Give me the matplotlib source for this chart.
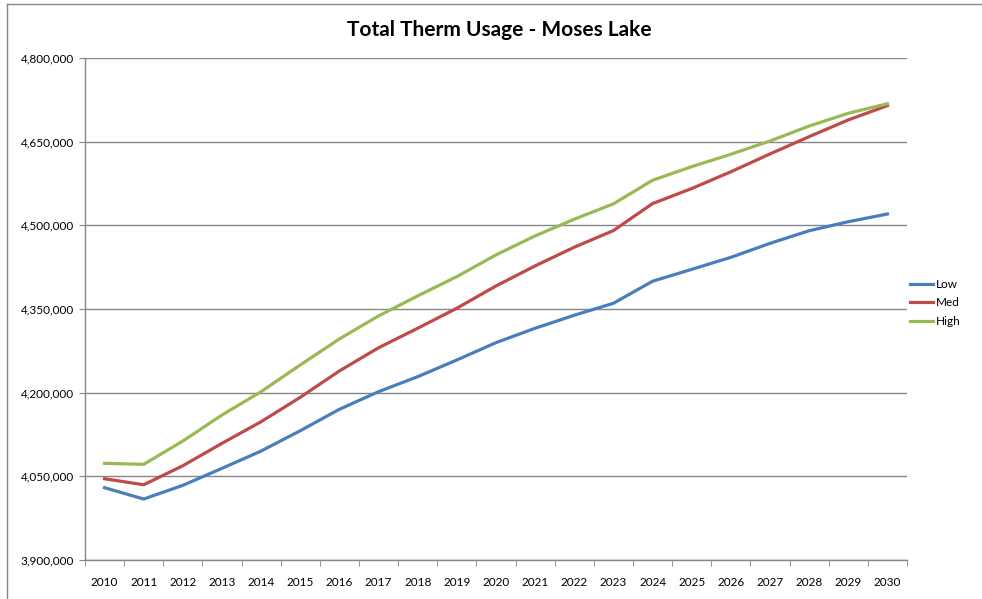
import matplotlib.pyplot as plt
import numpy as np
from matplotlib.ticker import FuncFormatter, FixedLocator
from matplotlib.lines import Line2D

plt.rcParams['font.family'] = ['Lato', 'DejaVu Sans']

years = [str(y) for y in range(2010, 2031)]

low = [4029600, 4009300, 4033900, 4064300, 4095400, 4131800, 4170200, 4201800,
       4228700, 4258600, 4289700, 4315500, 4338800, 4360300, 4399800, 4421100,
       4442600, 4467700, 4490300, 4506500, 4520300]
med = [4045700, 4034900, 4069000, 4109200, 4148000, 4191700, 4239000, 4280500,
       4315500, 4351400, 4391300, 4427300, 4460800, 4490600, 4539000, 4566000,
       4596000, 4628000, 4659000, 4689000, 4714600]
high = [4073300, 4071500, 4113300, 4160000, 4201800, 4249700, 4296400, 4337600,
        4373500, 4408100, 4447000, 4481100, 4511000, 4538500, 4580800, 4605200,
        4627400, 4651200, 4678000, 4700900, 4718000]

series = {'Low': (low, '#4A7EBB'), 'Med': (med, '#BE4B48'), 'High': (high, '#98B954')}

fig = plt.figure(figsize=(9.82, 5.99), dpi=100)
ax = fig.add_axes([85/982, 1 - 560/599, (907-85)/982, (560-58)/599])

x = np.arange(len(years))
for name, (vals, col) in series.items():
    ax.plot(x, vals, color=col, lw=2.3, label=name, solid_joinstyle='round')

grid_col = '#868686'
ax.set_ylim(3900000, 4800000)
ax.set_yticks(np.arange(3900000, 4800001, 150000))
ax.yaxis.set_major_formatter(FuncFormatter(lambda v, p: f'{int(v):,}'))
ax.grid(axis='y', color=grid_col, lw=1)
ax.set_axisbelow(True)

ax.set_xlim(-0.5, len(years) - 0.5)
ax.set_xticks(x)
ax.set_xticklabels(years)
ax.xaxis.set_minor_locator(FixedLocator(np.arange(-0.5, len(years), 1)))
ax.tick_params(axis='x', which='major', length=0, pad=12, labelsize=8.5)
ax.tick_params(axis='x', which='minor', length=4, color=grid_col, direction='out')
ax.tick_params(axis='y', length=4, color=grid_col, labelsize=8.5, pad=4)

for s in ['top', 'right']:
    ax.spines[s].set_visible(False)
for s in ['left', 'bottom']:
    ax.spines[s].set_color(grid_col)
    ax.spines[s].set_linewidth(1)

fig.text(499/982, 1 - 30/599, 'Total Therm Usage - Moses Lake', ha='center', va='center',
         fontsize=15, fontweight='bold')

handles = [Line2D([], [], color=c, lw=2.3) for _, (v, c) in series.items()]
fig.legend(handles, list(series.keys()), loc='center left', bbox_to_anchor=(905/982, 1 - 303/599),
           frameon=False, fontsize=8.5, handlelength=2.0, handletextpad=0.2, labelspacing=0.65,
           borderaxespad=0)

# outer chart border (top and left only visible)
fig.add_artist(Line2D([7/982, 1], [1 - 4/599, 1 - 4/599], color=grid_col, lw=1))
fig.add_artist(Line2D([7/982, 7/982], [0, 1 - 4/599], color=grid_col, lw=1))

fig.savefig('out.png', dpi=100)
